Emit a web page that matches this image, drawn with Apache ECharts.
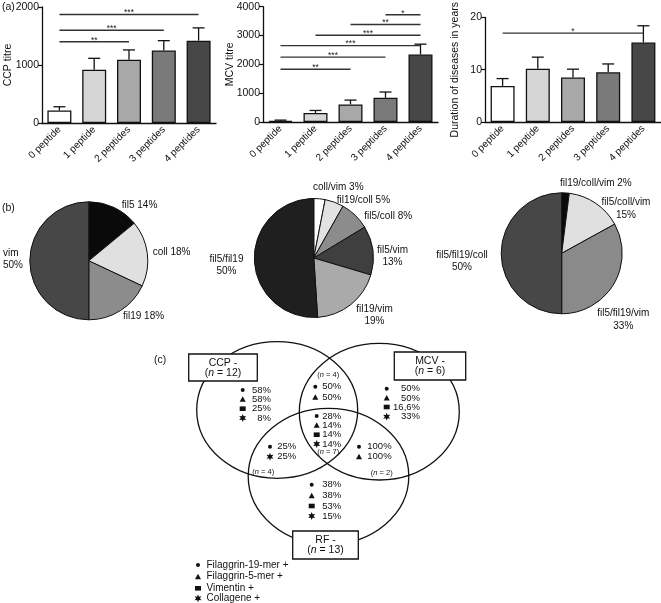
<!DOCTYPE html>
<html><head><meta charset="utf-8">
<script src="https://cdn.jsdelivr.net/npm/echarts@6/dist/echarts.min.js"></script>
<style>html,body{margin:0;padding:0;background:#fff}#c{width:661px;height:603px}</style>
</head><body><div id="c"></div>
<script>
// ---------- DATA ----------
const categories = ['0 peptide','1 peptide','2 peptides','3 peptides','4 peptides'];
const ccpMean = [215, 920, 1090, 1250, 1420];
const ccpErr  = [280, 1115, 1260, 1420, 1640];
const mcvMean = [40, 310, 610, 840, 2340];
const mcvErr  = [65, 400, 760, 1040, 2700];
const durMean = [6.9, 10.2, 8.5, 9.5, 15.2];
const durErr  = [8.3, 12.4, 10.1, 11.1, 18.4];
const ccpSigFrom = [0, 0, 0], ccpSigTo = [4, 3, 2], ccpSigY = [1870, 1600, 1400], ccpSigTxt = ['***','***','**'];
const mcvSigFrom = [3, 2, 1, 0, 0, 0], mcvSigTo = [4, 4, 4, 4, 3, 2];
const mcvSigY = [3720, 3380, 3010, 2650, 2250, 1830], mcvSigTxt = ['*','**','***','***','***','**'];
const durSigFrom = [0], durSigTo = [4], durSigY = [17.0], durSigTxt = ['*'];
const yTitles = ['CCP titre','MCV titre','Duration of diseases in years'];
const yMax = [2000, 4000, 20], yStep = [1000, 1000, 10];

const pie1Names = ['fil5','coll','fil19','vim'];
const pie1Values = [14, 18, 18, 50];
const pie2Names = ['coll/vim','fil19/coll','fil5/coll','fil5/vim','fil19/vim','fil5/fil19'];
const pie2Values = [3, 5, 8, 13, 19, 50];
const pie3Names = ['fil19/coll/vim','fil5/coll/vim','fil5/fil19/vim','fil5/fil19/coll'];
const pie3Values = [2, 15, 33, 50];

const vennSets = ['CCP -','MCV -','RF -'];
const vennSetN = [12, 6, 13];
const vennCCPonly = ['58%','58%','25%','8%'];
const vennCCPMCV = ['50%','50%'];
const vennMCVonly = ['50%','50%','16,6%','33%'];
const vennAll = ['28%','14%','14%','14%'];
const vennCCPRF = ['25%','25%'];
const vennMCVRF = ['100%','100%'];
const vennRFonly = ['38%','38%','53%','15%'];
const vennRegionN = [4, 7, 4, 2];
const legendItems = ['Filaggrin-19-mer +','Filaggrin-5-mer +','Vimentin +','Collagene +'];

// ---------- STYLE / LAYOUT ----------
const FONT = 'Liberation Sans, Arial, Helvetica, sans-serif';
const INK = '#111';
const barColors = ['#ffffff','#d6d6d6','#a8a8a8','#7a7a7a','#474747'];
const grids = [
  {left: 42, top: 7, width: 174, height: 116},
  {left: 263, top: 6.7, width: 175, height: 115.3},
  {left: 485, top: 5.7, width: 176, height: 116.3}
];
const nameGaps = [28, 27, 24];

function errRender(params, api) {
  const i = api.value(0);
  const p1 = api.coord([i, api.value(2)]);
  const p2 = api.coord([i, api.value(1)]);
  return {type: 'group', children: [
    {type: 'line', shape: {x1: p1[0], y1: p1[1], x2: p2[0], y2: p2[1]}, style: {stroke: INK, lineWidth: 1.3}},
    {type: 'line', shape: {x1: p2[0] - 6, y1: p2[1], x2: p2[0] + 6, y2: p2[1]}, style: {stroke: INK, lineWidth: 1.3}}
  ]};
}
function sigRenderFactory(txt) {
  return function (params, api) {
    const a = api.coord([api.value(0), api.value(2)]);
    const b = api.coord([api.value(1), api.value(2)]);
    return {type: 'group', children: [
      {type: 'line', shape: {x1: a[0], y1: a[1], x2: b[0], y2: b[1]}, style: {stroke: '#333', lineWidth: 1.4}},
      {type: 'text', x: (a[0] + b[0]) / 2, y: a[1] + 3, style: {text: txt[params.dataIndex], align: 'center', verticalAlign: 'bottom', fontSize: 8.5, fontFamily: FONT, fill: '#222'}}
    ]};
  };
}

const means = [ccpMean, mcvMean, durMean];
const errs = [ccpErr, mcvErr, durErr];
const sigs = [
  [ccpSigFrom, ccpSigTo, ccpSigY, ccpSigTxt],
  [mcvSigFrom, mcvSigTo, mcvSigY, mcvSigTxt],
  [durSigFrom, durSigTo, durSigY, durSigTxt]
];

const xAxes = [], yAxes = [], series = [];
for (let g = 0; g < 3; g++) {
  xAxes.push({
    type: 'category', gridIndex: g, data: categories,
    axisLine: {lineStyle: {color: INK, width: 1.3}},
    axisTick: {alignWithLabel: true, length: 3, lineStyle: {color: INK, width: 1.2}},
    axisLabel: {rotate: 45, interval: 0, fontSize: 10, color: INK, fontFamily: FONT, margin: 5}
  });
  yAxes.push({
    type: 'value', gridIndex: g, min: 0, max: yMax[g], interval: yStep[g],
    name: yTitles[g], nameLocation: 'middle', nameGap: nameGaps[g], nameMoveOverlap: false,
    nameTextStyle: {fontSize: 10.5, color: INK, fontFamily: FONT},
    splitLine: {show: false},
    axisLine: {show: true, lineStyle: {color: INK, width: 1.3}},
    axisTick: {show: true, length: 4, lineStyle: {color: INK, width: 1.2}},
    axisLabel: {fontSize: 10.5, color: INK, fontFamily: FONT, margin: 3, formatter: v => String(v)}
  });
  series.push({
    type: 'bar', xAxisIndex: g, yAxisIndex: g, barWidth: 24,
    data: means[g].map((v, i) => ({value: v, itemStyle: {color: barColors[i]}})),
    itemStyle: {borderColor: INK, borderWidth: 1.3}, silent: true
  });
  series.push({
    type: 'custom', xAxisIndex: g, yAxisIndex: g, renderItem: errRender,
    encode: {x: 0, y: [1, 2]},
    data: means[g].map((v, i) => [i, errs[g][i], v]), silent: true, z: 5
  });
  const s = sigs[g];
  series.push({
    type: 'custom', xAxisIndex: g, yAxisIndex: g, renderItem: sigRenderFactory(s[3]),
    encode: {x: [0, 1], y: 2},
    data: s[0].map((f, i) => [f, s[1][i], s[2][i]]), silent: true, z: 6
  });
}

// pies
function pieSeries(names, values, colors, center, radius, lay) {
  return {
    type: 'pie', center: center, radius: radius, startAngle: 90, clockwise: true,
    animation: false, silent: true, avoidLabelOverlap: false,
    data: names.map((n, i) => ({name: n, value: values[i], itemStyle: {color: colors[i]}})),
    itemStyle: {borderColor: INK, borderWidth: 1},
    label: {
      show: true, position: 'outside', fontSize: 10, fontFamily: FONT, color: INK, lineHeight: 12.5,
      overflow: 'none', alignTo: 'none',
      formatter: p => p.name + (lay[p.dataIndex][3] ? '\n' : ' ') + p.value + '%'
    },
    labelLine: {show: false},
    labelLayout: p => ({x: lay[p.dataIndex][0], y: lay[p.dataIndex][1], align: lay[p.dataIndex][2], verticalAlign: 'middle', hideOverlap: false})
  };
}
// [x, y, align, multiline]
const pie1Lay = [[121.7, 205.5, 'left', 0], [152.7, 252.3, 'left', 0], [123, 316, 'left', 0], [3, 259, 'left', 1]];
const pie2Lay = [[313, 187.5, 'left', 0], [336.7, 200, 'left', 0], [364.3, 216.7, 'left', 0], [392.5, 256, 'center', 1], [374.5, 315.3, 'center', 1], [226.5, 265, 'center', 1]];
const pie3Lay = [[560, 183.5, 'left', 0], [626, 208.5, 'center', 1], [623.3, 319.5, 'center', 1], [462, 261, 'center', 1]];
series.push(pieSeries(pie1Names, pie1Values, ['#0a0a0a','#e0e0e0','#8c8c8c','#474747'], [88.8, 260.8], 59, pie1Lay));
series.push(pieSeries(pie2Names, pie2Values, ['#ffffff','#e2e2e2','#8c8c8c','#3f3f3f','#aaaaaa','#1f1f1f'], [313.8, 258], 59.5, pie2Lay));
series.push(pieSeries(pie3Names, pie3Values, ['#0a0a0a','#e0e0e0','#8a8a8a','#474747'], [561.7, 253.3], 60.5, pie3Lay));

// ---------- VENN (graphic) ----------
function marker(kind, x, y) {
  if (kind === 'circle') return {type: 'circle', shape: {cx: x, cy: y, r: 2}, style: {fill: INK}};
  if (kind === 'triangle') return {type: 'polygon', shape: {points: [[x - 3, y + 2.5], [x + 3, y + 2.5], [x, y - 3]]}, style: {fill: INK}};
  if (kind === 'square') return {type: 'rect', shape: {x: x - 3, y: y - 2.3, width: 6, height: 4.6}, style: {fill: INK}};
  const pts = [];
  for (let k = 0; k < 12; k++) {
    const r = k % 2 === 0 ? 4 : 1.9;
    const a = Math.PI / 2 + k * Math.PI / 6;
    pts.push([x + r * Math.cos(a), y - r * Math.sin(a)]);
  }
  return {type: 'polygon', shape: {points: pts}, style: {fill: INK}};
}
function txt(t, x, y, align, size, extra) {
  return {type: 'text', x: x, y: y, style: Object.assign({text: t, align: align || 'left', verticalAlign: 'middle', fontSize: size || 10, fontFamily: FONT, fill: INK}, extra || {})};
}
const M = ['circle','triangle','square','star'];
const vennRegions = [
  {vals: vennCCPonly, mk: M, mx: 242.7, tx: 271, al: 'right', ys: [390, 399.3, 408.7, 418]},
  {vals: vennCCPMCV, mk: ['circle','triangle'], mx: 315.3, tx: 322.3, al: 'left', ys: [386.7, 397.3]},
  {vals: vennMCVonly, mk: M, mx: 386.7, tx: 420, al: 'right', ys: [388.7, 398, 407, 416.7]},
  {vals: vennAll, mk: M, mx: 316.7, tx: 322.3, al: 'left', ys: [416, 425.3, 434.7, 444]},
  {vals: vennCCPRF, mk: ['circle','star'], mx: 270, tx: 277.3, al: 'left', ys: [446.7, 456.7]},
  {vals: vennMCVRF, mk: ['circle','triangle'], mx: 359, tx: 367.3, al: 'left', ys: [446.7, 456.7]},
  {vals: vennRFonly, mk: M, mx: 311.7, tx: 322.3, al: 'left', ys: [484.7, 495.7, 506, 516]}
];
const nPos = [[328.3, 375.3], [328.3, 452], [263.3, 471.7], [381.7, 472.7]];
const ellipses = [[277.2, 410, 80.5, 68.3], [379.3, 411.7, 80, 68.3], [328.5, 476.3, 80.3, 68]];
const boxes = [[188.7, 354, 68.6, 27], [394.3, 352, 71.4, 28], [292.7, 531, 65.6, 28]];

const graphics = [];
ellipses.forEach(e => graphics.push({type: 'ellipse', shape: {cx: e[0], cy: e[1], rx: e[2], ry: e[3]}, style: {fill: 'none', stroke: INK, lineWidth: 1.3}}));
boxes.forEach((b, i) => {
  graphics.push({type: 'rect', shape: {x: b[0], y: b[1], width: b[2], height: b[3]}, style: {fill: '#fff', stroke: INK, lineWidth: 1.3}});
  const cx = b[0] + b[2] / 2;
  graphics.push(txt(vennSets[i], cx, b[1] + 9.5, 'center', 10.5));
  graphics.push({type: 'text', x: cx, y: b[1] + 19.5, style: {text: '({i|n} = ' + vennSetN[i] + ')', rich: {i: {fontStyle: 'italic', fontSize: 10.5, fontFamily: FONT}}, align: 'center', verticalAlign: 'middle', fontSize: 10.5, fontFamily: FONT, fill: INK}});
});
vennRegions.forEach(r => {
  r.vals.forEach((v, i) => {
    graphics.push(marker(r.mk[i], r.mx, r.ys[i]));
    graphics.push(txt(v, r.tx, r.ys[i], r.al, 9.5));
  });
});
vennRegionN.forEach((n, i) => {
  graphics.push({type: 'text', x: nPos[i][0], y: nPos[i][1], style: {text: '({i|n} = ' + n + ')', rich: {i: {fontStyle: 'italic', fontSize: 7.5, fontFamily: FONT}}, align: 'center', verticalAlign: 'middle', fontSize: 7.5, fontFamily: FONT, fill: INK}});
});
const legYs = [565, 576.7, 588.3, 598.3];
legendItems.forEach((t, i) => {
  graphics.push(marker(M[i], 198, legYs[i]));
  graphics.push(txt(t, 206.5, legYs[i], 'left', 10));
});
graphics.push(txt('(a)', 2, 7.5, 'left', 10.5));
graphics.push(txt('(b)', 2, 208, 'left', 10.5));
graphics.push(txt('(c)', 154, 360, 'left', 10.5));

const chart = echarts.init(document.getElementById('c'), null, {renderer: 'canvas'});
chart.setOption({
  animation: false,
  backgroundColor: '#fff',
  textStyle: {fontFamily: FONT},
  grid: grids,
  xAxis: xAxes,
  yAxis: yAxes,
  series: series,
  graphic: {elements: graphics}
});
</script></body></html>
